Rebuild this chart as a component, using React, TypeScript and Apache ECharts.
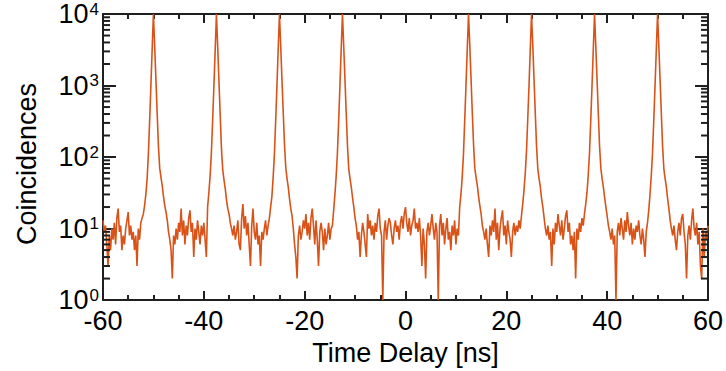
import React, { useEffect, useRef } from "react";
import * as echarts from "echarts";

// Histogram bins: start (ns) and width (ns)
const binStart = -60;
const binWidth = 0.25;

// Coincidence counts per bin, in chunks of 12.5 ns
const countsA = [13, 9, 11, 6, 3, 8, 5, 10, 7, 12, 6, 14, 19, 9, 11, 5, 8, 6, 10, 13, 17, 8, 11, 7, 9, 5, 8, 3, 10, 7, 12, 14,
  16, 21, 30, 50, 110, 320, 1000, 3200, 10000, 3600, 1200, 400, 140, 70, 52, 40, 28, 21];
const countsB = [17, 13, 9, 7, 5, 2, 8, 6, 10, 7, 12, 9, 19, 8, 13, 6, 11, 8, 14, 18, 9, 12, 4, 10, 7, 13, 9, 6, 11, 8, 12, 7,
  4, 20, 32, 55, 115, 330, 1000, 3100, 10000, 3500, 1150, 380, 130, 66, 48, 36, 25, 19];
const countsC = [16, 12, 10, 8, 11, 7, 9, 13, 6, 5, 14, 22, 10, 15, 8, 12, 6, 3, 11, 19, 9, 7, 12, 6, 8, 3, 9, 7, 10, 13, 8, 11,
  14, 20, 28, 52, 110, 320, 980, 3200, 10000, 3600, 1200, 420, 150, 72, 50, 38, 26, 19];
const countsD = [15, 10, 6, 4, 2, 8, 11, 7, 9, 13, 10, 16, 8, 12, 7, 14, 19, 11, 6, 13, 7, 3, 9, 12, 9, 5, 10, 6, 8, 12, 7, 10,
  11, 18, 30, 54, 115, 330, 1000, 3300, 10000, 3500, 1200, 400, 140, 68, 50, 38, 27, 20];
const countsE = [14, 11, 7, 9, 4, 8, 12, 9, 6, 4, 16, 10, 13, 8, 11, 7, 12, 9, 15, 19, 10, 8, 1, 9, 13, 7, 11, 14, 12, 8, 6, 10,
  13, 9, 11, 7, 12, 15, 10, 16, 20, 12, 9, 14, 8, 11, 13, 19, 10, 12];
const countsF = [9, 14, 8, 3, 10, 6, 2, 9, 12, 8, 11, 16, 10, 7, 12, 9, 1, 11, 16, 8, 12, 6, 10, 14, 7, 9, 5, 11, 8, 13, 6, 10,
  8, 20, 30, 52, 110, 330, 1000, 3200, 10000, 3700, 1250, 420, 150, 70, 52, 40, 28, 21];
const countsG = [16, 11, 9, 7, 10, 6, 4, 11, 8, 13, 9, 19, 7, 12, 5, 10, 14, 18, 8, 11, 6, 13, 9, 7, 4, 9, 12, 8, 11, 9, 13, 10,
  15, 22, 34, 58, 120, 340, 1000, 3200, 10000, 3600, 1200, 400, 140, 68, 50, 38, 26, 20];
const countsH = [14, 10, 8, 11, 7, 9, 3, 10, 6, 12, 9, 16, 11, 8, 13, 7, 10, 15, 18, 9, 12, 6, 8, 5, 9, 2, 10, 7, 12, 9, 14, 11,
  16, 22, 32, 56, 115, 330, 1000, 3200, 10000, 3500, 1200, 400, 140, 70, 50, 38, 27, 20];
const countsI = [15, 11, 9, 7, 10, 6, 8, 1, 9, 12, 8, 14, 10, 7, 13, 9, 17, 11, 8, 12, 6, 10, 7, 11, 9, 13, 8, 6, 10, 7, 4, 9,
  12, 18, 30, 55, 115, 330, 1000, 3200, 10000, 3600, 1200, 400, 140, 68, 50, 38, 26, 19];
const countsJ = [13, 10, 8, 11, 7, 5, 9, 12, 8, 14, 16, 9, 6, 2, 8, 11, 7, 13, 19, 10, 8, 12, 6, 9, 3, 2, 10, 4, 9, 7, 11];

const allCounts = [
  ...countsA, ...countsB, ...countsC, ...countsD, ...countsE,
  ...countsF, ...countsG, ...countsH, ...countsI, ...countsJ,
];

const xTickMin = -60;
const xTickMax = 60;
const xTickStep = 20;
const yMin = 1;
const yMax = 10000;
const minorTickValues = [2, 3, 4, 5, 6, 7, 8, 9, 20, 30, 40, 50, 60, 70, 80, 90, 200, 300, 400, 500, 600, 700, 800, 900,
  2000, 3000, 4000, 5000, 6000, 7000, 8000, 9000];

const xTitle = "Time Delay [ns]";
const yTitle = "Coincidences";

const FONT = "'Liberation Sans', Arial, Helvetica, sans-serif";
const AX = "#1f1f1f";
const LINE = "#D95319";
const TW = 2;

export default function App() {
  const ref = useRef<HTMLDivElement>(null);
  useEffect(() => {
    if (!ref.current) return;
    const chart = echarts.init(ref.current, null, { renderer: "svg" });
    const data = allCounts.map((c, i) => [binStart + i * binWidth, c]);
    const axisLine = { show: true, onZero: false, lineStyle: { color: AX, width: TW } };
    const xCommon = {
      type: "value" as const,
      min: xTickMin,
      max: xTickMax,
      interval: xTickStep,
      axisLine,
      axisTick: { show: true, inside: true, length: 9, lineStyle: { color: AX, width: TW } },
      minorTick: { show: true, splitNumber: 4, length: 5, lineStyle: { color: AX, width: TW } },
      splitLine: { show: false },
      minorSplitLine: { show: false },
    };
    const yMajor = {
      type: "log" as const,
      logBase: 10,
      min: yMin,
      max: yMax,
      axisLine,
      axisTick: { show: true, inside: true, length: 13, lineStyle: { color: AX, width: TW } },
      splitLine: { show: false },
    };
    chart.setOption({
      animation: false,
      backgroundColor: "#ffffff",
      grid: { left: 103, right: 18, top: 14, bottom: 65, containLabel: false },
      xAxis: [
        {
          ...xCommon,
          position: "bottom",
          axisLabel: { show: true, fontSize: 27, color: "#000", fontFamily: FONT, margin: 7 },
          name: xTitle,
          nameLocation: "middle",
          nameGap: 33,
          nameTextStyle: { fontSize: 27, color: "#000", fontFamily: FONT },
        },
        { ...xCommon, position: "top", axisLabel: { show: false } },
      ],
      yAxis: [
        {
          ...yMajor,
          position: "left",
          axisLabel: {
            show: true,
            margin: 4,
            formatter: (v: number) => `{b|10}{s|${Math.round(Math.log10(v))}}`,
            rich: {
              b: { fontSize: 27, fontFamily: FONT, color: "#000" },
              s: { fontSize: 17, fontFamily: FONT, color: "#000", verticalAlign: "top", padding: [0, 0, 0, 1] },
            },
          },
        },
        { ...yMajor, position: "right", axisLabel: { show: false } },
      ],
      graphic: [
        {
          type: "text",
          x: 27,
          y: 164,
          rotation: Math.PI / 2,
          style: {
            text: yTitle,
            fontSize: 27,
            fontFamily: FONT,
            fill: "#000",
            textAlign: "center",
            textVerticalAlign: "middle",
          },
        },
      ],
      series: [
        {
          type: "line",
          xAxisIndex: 0,
          yAxisIndex: 0,
          data,
          showSymbol: false,
          symbol: "none",
          clip: true,
          lineStyle: { color: LINE, width: 1.6 },
          z: 2,
        },
        {
          // minor log ticks on the left and right frame
          type: "custom",
          xAxisIndex: 0,
          yAxisIndex: 0,
          silent: true,
          clip: false,
          z: 3,
          data: minorTickValues.map((v) => [xTickMin, v]),
          renderItem: (_params: any, api: any) => {
            const v = api.value(1);
            const l = api.coord([xTickMin, v]);
            const r = api.coord([xTickMax, v]);
            const style = { stroke: AX, lineWidth: TW };
            return {
              type: "group",
              children: [
                { type: "line", shape: { x1: l[0], y1: l[1], x2: l[0] + 7, y2: l[1] }, style },
                { type: "line", shape: { x1: r[0] - 7, y1: r[1], x2: r[0], y2: r[1] }, style },
              ],
            };
          },
        },
      ],
    });
    return () => chart.dispose();
  }, []);
  return <div ref={ref} style={{ position: "fixed", left: 0, top: 0, width: 726, height: 371 }} />;
}
